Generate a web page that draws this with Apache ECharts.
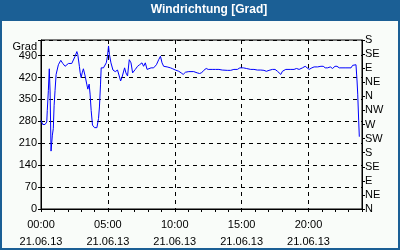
<!DOCTYPE html>
<html><head><meta charset="utf-8">
<script src="https://cdn.jsdelivr.net/npm/echarts@6/dist/echarts.min.js"></script>
<style>html,body{margin:0;padding:0;background:#fff}#c{width:400px;height:250px}</style>
</head><body><div id="c"></div>
<script>
const titleText = 'Windrichtung [Grad]';
const dateLabel = '21.06.13';
const compass = ['N','NE','E','SE','S','SW','W','NW'];
const hours = [0,0.13,0.3,0.43,0.47,0.55,0.62,0.68,0.75,0.85,0.92,0.98,1.05,1.13,1.3,1.48,1.63,1.8,2.05,2.3,2.42,2.55,2.68,2.75,2.87,2.93,3.0,3.08,3.17,3.3,3.42,3.5,3.6,3.67,3.75,3.85,4.0,4.18,4.3,4.37,4.45,4.5,4.67,4.8,4.88,4.97,5.05,5.12,5.23,5.38,5.55,5.72,5.85,5.95,6.05,6.25,6.35,6.47,6.6,6.73,6.85,6.98,7.05,7.22,7.37,7.55,7.67,7.8,7.93,8.05,8.23,8.42,8.63,8.8,8.93,9.05,9.17,9.43,9.68,9.85,10.05,10.3,10.48,10.63,10.8,11.05,11.42,11.68,11.85,12.0,12.17,12.35,12.5,12.6,12.8,13.05,13.3,13.55,13.67,13.93,14.18,14.42,14.68,14.87,15.0,15.13,15.25,15.35,15.47,15.68,15.92,16.18,16.43,16.67,16.85,17.05,17.3,17.5,17.68,17.8,17.93,18.05,18.3,18.68,18.92,19.1,19.3,19.55,19.75,19.88,20.05,20.25,20.42,20.68,20.93,21.1,21.25,21.43,21.63,21.8,21.98,22.13,22.3,22.8,23.18,23.3,23.55,23.63,23.68,23.75,23.8];
const degrees = [283,270,270,278,315,378,448,374,185,236,257,330,378,430,461,475,465,456,465,465,461,488,503,493,456,435,420,435,448,425,399,383,399,367,315,268,260,260,289,326,399,451,451,456,467,488,521,493,467,444,439,444,425,409,420,451,435,425,477,467,435,440,446,456,461,467,456,467,446,446,451,451,461,477,488,467,456,454,451,448,444,440,435,430,437,439,439,435,433,435,443,449,446,451,446,446,446,444,446,443,443,446,446,451,446,451,456,449,443,446,446,444,444,443,440,443,446,446,440,439,430,440,446,446,446,449,446,451,456,451,446,451,454,454,456,456,451,451,454,449,456,456,451,451,451,459,461,409,367,284,231];
const leftTicks = [0,70,140,210,280,350,420,490];

const font = 'Liberation Sans';
const series = hours.map((h,i)=>[h,degrees[i]]);
const chart = echarts.init(document.getElementById('c'));
chart.setOption({
  animation:false,
  backgroundColor:'#f9fcf9',
  graphic:[
    {type:'rect',x:0,y:0,shape:{width:400,height:21},style:{fill:'#1b5f95'},z:0},
    {type:'rect',x:0,y:0,shape:{x:1,y:1,width:398,height:248},style:{fill:null,stroke:'#1b5f95',lineWidth:2},z:0},
    {type:'text',x:209,y:4,style:{text:titleText,fill:'#fff',font:'bold 12px '+font,textAlign:'center'},z:2},
    {type:'text',x:37,y:41,style:{text:'Grad',fill:'#000',font:'11px '+font,textAlign:'right'},z:2}
  ],
  grid:{left:41,right:38,top:40,bottom:38,show:true,borderColor:'#000',borderWidth:1,backgroundColor:'transparent'},
  xAxis:{type:'value',min:0,max:24,interval:5,
    axisLine:{show:true,lineStyle:{color:'#000'}},
    axisTick:{show:true,length:3,lineStyle:{color:'#000'}},
    minorTick:{show:true,splitNumber:5,length:3,lineStyle:{color:'#000'}},
    splitLine:{show:true,lineStyle:{color:'#000',type:[4,4]}},
    axisLabel:{color:'#000',fontFamily:font,fontSize:11,lineHeight:17,margin:7,
      formatter:v=> (v%5===0 && v<24) ? (String(v).padStart(2,'0')+':00\n'+dateLabel) : ''}
  },
  yAxis:[
    {type:'value',min:0,max:540,interval:70,position:'left',
     axisLine:{show:true,lineStyle:{color:'#000'}},
     axisTick:{show:true,length:3,lineStyle:{color:'#000'}},
     splitLine:{show:true,lineStyle:{color:'#000',type:[4,4]}},
     axisLabel:{color:'#000',fontFamily:font,fontSize:11,margin:4,
       formatter:v=> leftTicks.indexOf(v)>=0 ? String(v) : ''}},
    {type:'value',min:0,max:540,interval:45,position:'right',
     axisLine:{show:true,lineStyle:{color:'#000'}},
     axisTick:{show:true,length:3,lineStyle:{color:'#000'}},
     splitLine:{show:false},
     axisLabel:{color:'#000',fontFamily:font,fontSize:11,margin:3,
       formatter:v=> compass[Math.round(v/45)%8]}}
  ],
  series:[{type:'line',data:series,yAxisIndex:0,showSymbol:false,symbol:'none',
    lineStyle:{color:'#0000ff',width:1}}]
});
</script></body></html>
